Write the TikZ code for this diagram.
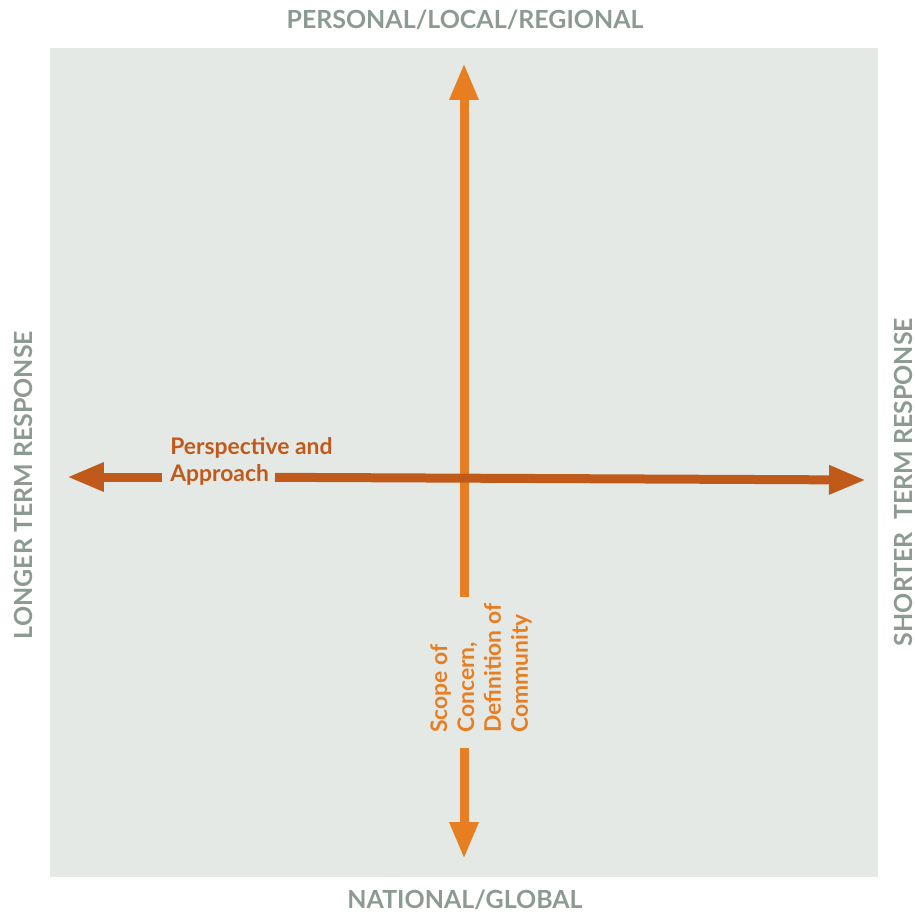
\documentclass[tikz,border=0pt]{standalone}
\usepackage{fontspec}
\setmainfont{Lato}
\usetikzlibrary{arrows.meta}
\definecolor{panelbg}{HTML}{E5E9E6}
\definecolor{axisgray}{HTML}{8C9B92}
\definecolor{scopeorange}{HTML}{E87E22}
\definecolor{viewrust}{HTML}{C05A1B}

\begin{document}
\begin{tikzpicture}[x=0.02cm,y=-0.02cm]
\tikzset{axislbl/.style={text=axisgray,font=\fontsize{14.2}{17}\selectfont\bfseries},
  innerlbl/.style={font=\fontsize{13}{15.3}\selectfont\bfseries,align=left,inner sep=0},
  fatarrow/.style={line width=0.18cm,-{Triangle[length=0.74cm,width=0.54cm]}}}
\useasboundingbox (0,0) rectangle (915,913);
\fill[panelbg] (50,48) rectangle (878,877);

% end labels
\node[axislbl] (axisN) at (465,20) {PERSONAL/LOCAL/REGIONAL};
\node[axislbl] (axisS) at (465,900) {NATIONAL/GLOBAL};
\node[axislbl,rotate=90] (axisW) at (23,485) {LONGER TERM RESPONSE};
\node[axislbl,rotate=90] (axisE) at (903,482) {SHORTER\ \ TERM RESPONSE};

% the two axes
\node[innerlbl,text=viewrust,anchor=north west] (viewlbl) at (170,437) {Perspective and\\Approach};
\node[innerlbl,text=scopeorange,rotate=90,anchor=north west] (scopelbl) at (430,733) {Scope of\\Concern,\\Definition of\\Community};

\coordinate (scopeTip) at (464,63);
\coordinate (scopeEnd) at (464,859);
\coordinate (viewTip) at (67,477);
\coordinate (viewEnd) at (866,480);
\coordinate (viewgapL) at (162,477);
\coordinate (viewgapR) at (275,477.3);

\draw[fatarrow,scopeorange] (scopelbl.east -| scopeTip) ++(0,-6) -- (scopeTip);
\draw[fatarrow,scopeorange] (scopelbl.west -| scopeEnd) ++(0,15) -- (scopeEnd);
\draw[fatarrow,viewrust] (viewgapL) -- (viewTip);
\draw[fatarrow,viewrust] (viewgapR) -- (viewEnd);
\end{tikzpicture}
\end{document}
